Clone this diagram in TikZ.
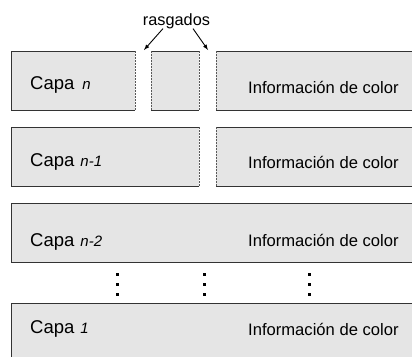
\documentclass[tikz,border=0pt]{standalone}
\usepackage{fontspec}
\setmainfont{Liberation Sans}
\usetikzlibrary{arrows}

\tikzset{
	trozo/.style={fill=gray!20},
	borde/.style={draw=black!80, line width=0.9pt},
	rasgo/.style={draw=black!65, line width=0.8pt, dash pattern=on 2pt off 1pt},
	capa/.style={anchor=base west, inner sep=0pt, font=\fontsize{18.5}{20}\selectfont},
	info/.style={anchor=base west, inner sep=0pt, font=\fontsize{16.6}{19}\selectfont},
	flecha/.style={-latex, line width=0.9pt}
}
\newcommand{\ene}[1]{{\fontsize{15}{16}\selectfont\itshape #1}}

\begin{document}
\begin{tikzpicture}[x=1pt, y=-1pt]
	\useasboundingbox (0,0) rectangle (412,356);
	
	% capa n
	\fill[trozo] (11,51) rectangle (135,110);
	\fill[trozo] (151,51) rectangle (199,110);
	\fill[trozo] (216,51) rectangle (414,110);
	\draw[borde] (135,51) -- (11,51) -- (11,110) -- (135,110);
	\draw[borde] (151,51) -- (199,51);
	\draw[borde] (151,110) -- (199,110);
	\draw[borde] (216,51) -- (414,51);
	\draw[borde] (216,110) -- (414,110);
	\draw[rasgo] (135,51) -- (135,110);
	\draw[rasgo] (151,51) -- (151,110);
	\draw[rasgo] (199,51) -- (199,110);
	\draw[rasgo] (216,51) -- (216,110);
	\node[capa] (capan) at (30,89) {Capa\hspace{8pt}\ene{n}};
	\node[info] (infon) at (248,93) {Información de color};
	
	% capa n-1
	\fill[trozo] (11,127) rectangle (199,186);
	\fill[trozo] (216,127) rectangle (414,186);
	\draw[borde] (199,127) -- (11,127) -- (11,186) -- (199,186);
	\draw[borde] (216,127) -- (414,127);
	\draw[borde] (216,186) -- (414,186);
	\draw[rasgo] (199,127) -- (199,186);
	\draw[rasgo] (216,127) -- (216,186);
	\node[capa] (capan1) at (30,166) {Capa\hspace{6pt}\ene{n-1}};
	\node[info] (infon1) at (248,168) {Información de color};
	
	% capa n-2
	\filldraw[trozo, borde] (414,203) -- (11,203) -- (11,262) -- (414,262);
	\node[capa] (capan2) at (30,246) {Capa\hspace{6pt}\ene{n-2}};
	\node[info] (infon2) at (248,246) {Información de color};
	
	\foreach \x in {117,204,309}
		\foreach \y in {274,284,294}
			\fill (\x-1.5,\y-1.5) rectangle ++(3,3);
	
	% capa 1
	\filldraw[trozo, borde] (414,303) -- (11,303) -- (11,360) -- (414,360);
	\node[capa] (capa1) at (30,333) {Capa\hspace{6pt}\ene{1}};
	\node[info] (info1) at (248,335) {Información de color};
	
	% rasgados
	\node[anchor=base, inner sep=0pt, font=\fontsize{16.3}{18}\selectfont] (rasgados) at (176.5,25) {rasgados};
	\coordinate (rasgoa) at (144,50);
	\coordinate (rasgob) at (208,50);
	\draw[flecha] ([xshift=-13.5pt]rasgados.south) -- (rasgoa);
	\draw[flecha] ([xshift=16.5pt]rasgados.south) -- (rasgob);
\end{tikzpicture}
\end{document}
